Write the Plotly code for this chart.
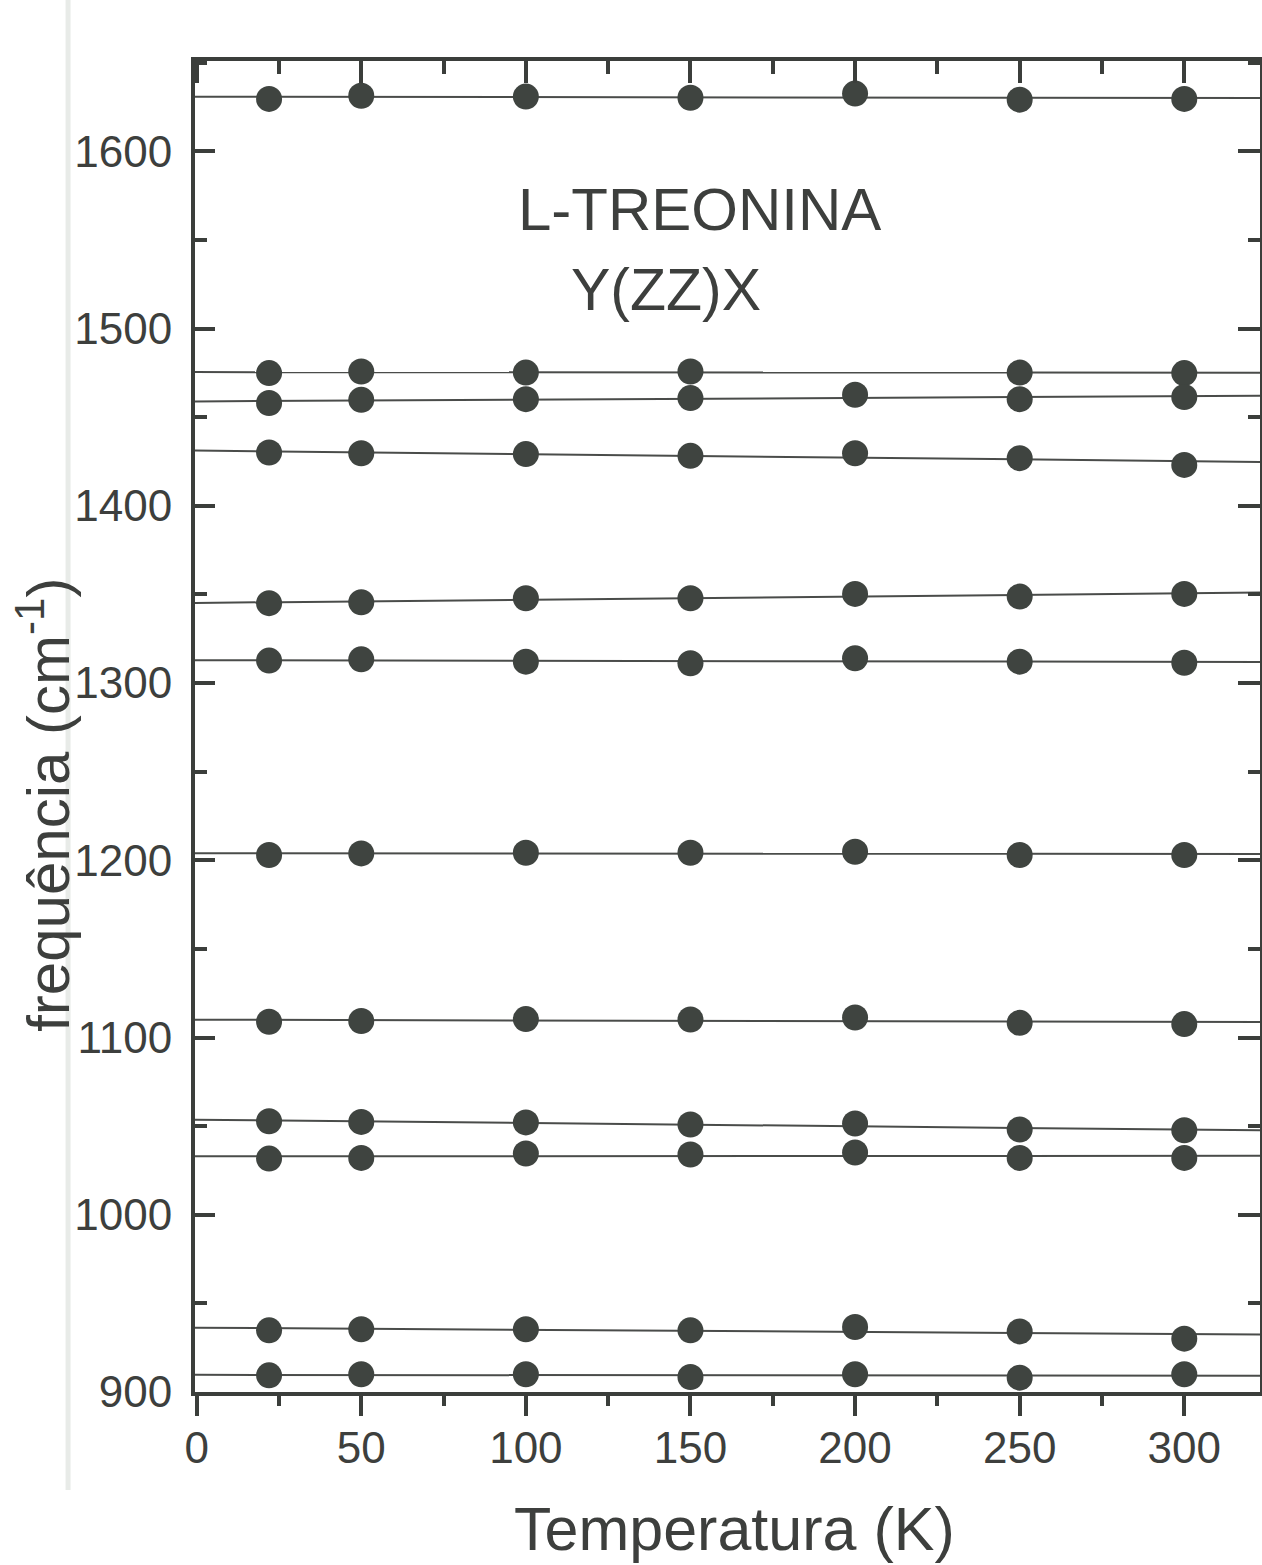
import numpy as np
import plotly.graph_objects as go

# ---------------- data ----------------
temperatura = [22, 50, 100, 150, 200, 250, 300]

freq_1630 = [1629.6, 1631.4, 1630.9, 1630.3, 1632.6, 1629.2, 1629.6]
freq_1475 = [1474.9, 1475.8, 1475.2, 1475.8, None, 1475.2, 1474.9]
freq_1460 = [1458.0, 1459.8, 1460.2, 1460.8, 1462.7, 1460.2, 1461.4]
freq_1429 = [1430.1, 1429.7, 1429.2, 1428.2, 1429.7, 1426.9, 1423.1]
freq_1348 = [1345.1, 1345.6, 1347.9, 1347.9, 1350.3, 1348.8, 1350.3]
freq_1312 = [1312.7, 1313.4, 1312.1, 1311.2, 1314.0, 1312.1, 1311.5]
freq_1204 = [1203.0, 1203.9, 1204.3, 1204.3, 1204.8, 1203.0, 1203.0]
freq_1110 = [1108.9, 1109.3, 1110.4, 1110.2, 1111.3, 1108.3, 1107.6]
freq_1051 = [1052.8, 1052.4, 1052.1, 1050.9, 1051.5, 1048.1, 1047.7]
freq_1033 = [1031.7, 1032.1, 1034.6, 1034.0, 1035.1, 1032.1, 1032.1]
freq_935 = [934.8, 935.4, 935.4, 934.8, 936.7, 934.2, 930.1]
freq_910 = [909.4, 910.0, 910.0, 908.5, 910.0, 908.1, 910.0]

series = [freq_1630, freq_1475, freq_1460, freq_1429, freq_1348, freq_1312,
          freq_1204, freq_1110, freq_1051, freq_1033, freq_935, freq_910]

x_tick_vals = [0, 50, 100, 150, 200, 250, 300]
y_tick_vals = [900, 1000, 1100, 1200, 1300, 1400, 1500, 1600]

x_range = [-0.5, 323]
y_range = [900, 1651]

titulo_x = "Temperatura (K)"
titulo_y = "frequência (cm<sup>-1</sup>)"
amostra = "L-TREONINA"
geometria = "Y(ZZ)X"

# ---------------- style ----------------
AX = "#3b3e3b"
TXT = "#3d3f3d"
MK = "#3f4440"
LN = "#4a4c4a"
FONT = "Liberation Sans, Arial, sans-serif"

fig = go.Figure()

# linear fits (lines across whole axis range)
for ys in series:
    xs = np.array([t for t, v in zip(temperatura, ys) if v is not None], float)
    vs = np.array([v for v in ys if v is not None], float)
    slope, icpt = np.polyfit(xs, vs, 1)
    xl = np.array(x_range, float)
    fig.add_trace(go.Scatter(x=xl, y=slope * xl + icpt, mode="lines",
                             line=dict(color=LN, width=2),
                             showlegend=False, hoverinfo="skip"))

for ys in series:
    fig.add_trace(go.Scatter(x=temperatura, y=ys, mode="markers",
                             marker=dict(size=26, color=MK,
                                         line=dict(width=0)),
                             showlegend=False))

# dummy trace for mirrored axes
fig.add_trace(go.Scatter(x=[None], y=[None], xaxis="x2", yaxis="y2",
                         showlegend=False, hoverinfo="skip"))

tickfont = dict(family=FONT, size=44, color=TXT)

fig.update_layout(
    width=1262, height=1565,
    margin=dict(l=195, r=2, t=61, b=173),
    paper_bgcolor="white", plot_bgcolor="white",
    font=dict(family=FONT, color=TXT),
    xaxis=dict(range=x_range, tickvals=x_tick_vals, showgrid=False, zeroline=False,
               showline=True, linewidth=4, linecolor=AX,
               ticks="outside", ticklen=20, tickwidth=4, tickcolor=AX,
               minor=dict(ticks="outside", dtick=25, tick0=0, ticklen=10,
                          tickwidth=4, tickcolor=AX, showgrid=False),
               tickfont=tickfont, ticklabelstandoff=-6),
    xaxis2=dict(range=x_range, overlaying="x", side="top", anchor="y2",
                tickvals=x_tick_vals, showticklabels=False, showgrid=False,
                zeroline=False, showline=True, linewidth=4, linecolor=AX,
                ticks="inside", ticklen=22, tickwidth=4, tickcolor=AX,
                minor=dict(ticks="inside", dtick=25, tick0=0, ticklen=13,
                           tickwidth=4, tickcolor=AX, showgrid=False)),
    yaxis=dict(range=y_range, tickvals=y_tick_vals, showgrid=False, zeroline=False,
               showline=True, linewidth=4, linecolor=AX,
               ticks="inside", ticklen=20, tickwidth=4, tickcolor=AX,
               minor=dict(ticks="inside", dtick=50, tick0=900, ticklen=12,
                          tickwidth=4, tickcolor=AX, showgrid=False),
               tickfont=tickfont, ticklabelstandoff=10),
    yaxis2=dict(range=y_range, overlaying="y", side="right", anchor="x2",
                tickvals=y_tick_vals, showticklabels=False, showgrid=False,
                zeroline=False, showline=True, linewidth=4, linecolor=AX,
                ticks="inside", ticklen=22, tickwidth=4, tickcolor=AX,
                minor=dict(ticks="inside", dtick=50, tick0=900, ticklen=12,
                           tickwidth=4, tickcolor=AX, showgrid=False)),
    annotations=[
        dict(text=amostra, xref="x", yref="y", x=97, y=1567,
             xanchor="left", yanchor="middle", showarrow=False,
             font=dict(family=FONT, size=60, color=TXT)),
        dict(text=geometria, xref="x", yref="y", x=113, y=1522,
             xanchor="left", yanchor="middle", showarrow=False,
             font=dict(family=FONT, size=59, color=TXT)),
        dict(text=titulo_x, xref="paper", yref="paper", x=0.507, y=-0.103,
             xanchor="center", yanchor="middle", showarrow=False,
             font=dict(family=FONT, size=61, color=TXT)),
        dict(text=titulo_y, xref="paper", yref="paper", x=-0.142, y=0.441,
             xanchor="center", yanchor="middle", showarrow=False, textangle=-90,
             font=dict(family=FONT, size=60, color=TXT)),
    ],
    shapes=[
        dict(type="line", xref="paper", yref="paper", x0=-0.1192, x1=-0.1192,
             y0=-0.0736, y1=1.05, line=dict(color="#e8ebe8", width=5), layer="below"),
    ],
)

fig.write_html("out.html")
